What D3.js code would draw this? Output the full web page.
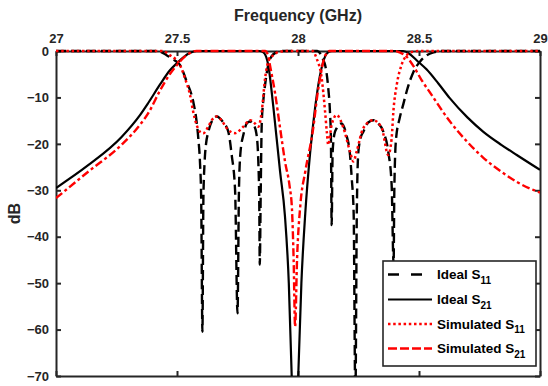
<!DOCTYPE html>
<html>
<head>
<meta charset="utf-8">
<script src="https://cdn.jsdelivr.net/npm/d3@7"></script>
<style>
  html, body { margin: 0; padding: 0; background: #ffffff; }
  svg { display: block; font-family: "Liberation Sans", Arial, sans-serif; }
</style>
</head>
<body>
<svg id="chart" width="548" height="386"></svg>
<script>
// Axis ticks
const xTicks = [27, 27.5, 28, 28.5, 29];
const yTicks = [0, -10, -20, -30, -40, -50, -60, -70];

// Ideal S11 : [GHz, dB]
const idealS11 = [
  [27.0, 0], [27.42, 0], [27.457, -0.9], [27.49, -2.0], [27.512, -3.0], [27.54, -6.6],
  [27.567, -10.9], [27.581, -15.2], [27.588, -18.8], [27.595, -24], [27.6, -32], [27.605, -60.5],
  [27.609, -32], [27.614, -24], [27.62, -20], [27.629, -17.5], [27.645, -15], [27.664, -14.1],
  [27.69, -15.3], [27.712, -17.4], [27.726, -22.4], [27.74, -30], [27.75, -56.5], [27.756, -30],
  [27.762, -22], [27.774, -18.1], [27.79, -15.5], [27.802, -15.2], [27.82, -16.2], [27.829, -18.1],
  [27.836, -23.8], [27.84, -33], [27.842, -46], [27.846, -30], [27.85, -16], [27.857, -10.5],
  [27.864, -7.3], [27.877, -3.0], [27.89, -1.2], [27.91, -0.3], [27.93, 0], [28.08, 0],
  [28.095, -0.8], [28.105, -2.0], [28.112, -3.0], [28.125, -8], [28.132, -13], [28.136, -18.8],
  [28.139, -37.5], [28.143, -22], [28.15, -18], [28.16, -16.6], [28.18, -15.6], [28.2, -18.1],
  [28.215, -22.4], [28.222, -27.4], [28.23, -35], [28.237, -75], [28.243, -35], [28.249, -22],
  [28.26, -18.5], [28.27, -17.4], [28.29, -15.4], [28.311, -14.9], [28.33, -15.5], [28.353, -17.4],
  [28.373, -21.7], [28.387, -28.9], [28.395, -46], [28.398, -30], [28.405, -19], [28.42, -14.5],
  [28.435, -11.5], [28.45, -8.5], [28.477, -4.5], [28.504, -2.3], [28.53, -1.0], [28.56, -0.3],
  [28.6, 0], [29.0, 0]
];

// Ideal S21 : [GHz, dB]
const idealS21 = [
  [27.0, -29.5], [27.133, -24.6], [27.271, -18.5], [27.347, -13.8], [27.381, -11.2], [27.43, -7.2],
  [27.47, -4.2], [27.5, -2.6], [27.53, -1.2], [27.555, -0.4], [27.58, 0], [27.84, 0],
  [27.857, -0.3], [27.877, -3.0], [27.898, -12], [27.926, -26], [27.946, -35.5], [27.962, -50],
  [27.974, -70], [27.987, -85], [28.001, -70], [28.014, -50], [28.03, -35], [28.05, -22],
  [28.07, -12.5], [28.091, -5.2], [28.105, -2.2], [28.12, -0.5], [28.14, 0], [28.435, 0],
  [28.46, -0.6], [28.49, -2.0], [28.532, -4.0], [28.58, -7.0], [28.628, -10.2], [28.7, -14.3],
  [28.766, -17.4], [28.84, -20.2], [28.904, -22.4], [29.0, -25.6]
];

// Simulated S11 : [GHz, dB]
const simS11 = [
  [27.0, 0], [27.44, 0], [27.471, -0.9], [27.512, -3.0], [27.533, -5.9], [27.554, -9.5],
  [27.567, -13.1], [27.581, -15.9], [27.595, -17.4], [27.609, -17.7], [27.629, -16.3], [27.645, -14.8],
  [27.664, -14.1], [27.685, -15.0], [27.705, -16.6], [27.74, -17.7], [27.774, -16.3], [27.802, -14.9],
  [27.822, -15.6], [27.836, -16.3], [27.85, -13.1], [27.864, -5.9], [27.877, -2.3], [27.898, -0.9],
  [27.92, -0.2], [27.95, 0], [28.06, 0], [28.077, -1.6], [28.098, -5.9], [28.112, -13.1],
  [28.119, -17.4], [28.125, -20.2], [28.139, -15.9], [28.16, -13.8], [28.188, -16.6], [28.215, -21.7],
  [28.229, -23.8], [28.242, -21.7], [28.27, -16.6], [28.311, -14.9], [28.346, -16.6], [28.373, -22.4],
  [28.387, -18.8], [28.394, -13.1], [28.408, -7.3], [28.428, -3.0], [28.449, -0.9], [28.47, -0.2],
  [28.5, 0], [29.0, 0]
];

// Simulated S21 : [GHz, dB]
const simS21 = [
  [27.0, -31.7], [27.133, -26.0], [27.271, -20.2], [27.347, -15.9], [27.38, -13.5], [27.43, -8.5],
  [27.47, -5.0], [27.5, -3.0], [27.53, -1.3], [27.555, -0.4], [27.58, 0], [27.864, 0],
  [27.877, -1.0], [27.884, -3.0], [27.905, -9.0], [27.926, -16.6], [27.947, -24], [27.965, -29],
  [27.975, -34], [27.982, -45], [27.988, -59.4], [27.996, -45], [28.01, -33], [28.03, -26],
  [28.063, -16.6], [28.08, -9.5], [28.091, -5.9], [28.112, -1.0], [28.13, 0], [28.4, 0],
  [28.42, -0.3], [28.45, -1.3], [28.48, -3.5], [28.51, -6.2], [28.55, -9.3], [28.628, -15.2],
  [28.7, -19.6], [28.766, -23.0], [28.84, -26.0], [28.904, -28.2], [29.0, -30.5]
];

const seriesNames = ["Ideal S", "Ideal S", "Simulated S", "Simulated S"];
const seriesSubs = ["11", "21", "11", "21"];

(function drawChart() {
  const svg = d3.select("#chart");
  const pL = 56, pR = 540, pT = 51, pB = 376;
  const axisColor = "#262626";

  const x = d3.scaleLinear().domain([27, 29]).range([pL, pR]);
  const y = d3.scaleLinear().domain([-70, 0]).range([pB, pT]);

  // axes (box with inward ticks on all four sides)
  function styleAxis(g) {
    g.select(".domain").attr("stroke", axisColor).attr("stroke-width", 2);
    g.selectAll(".tick line").attr("stroke", axisColor).attr("stroke-width", 2);
    g.selectAll(".tick text")
      .attr("fill", "#262626")
      .attr("font-size", 13)
      .attr("font-weight", "bold")
      .attr("font-family", "Liberation Sans, Arial, sans-serif");
  }

  svg.append("g").attr("transform", `translate(0,${pT})`)
    .call(d3.axisTop(x).tickValues(xTicks).tickFormat(d3.format("")).tickSizeInner(-5).tickSizeOuter(0).tickPadding(8))
    .call(styleAxis);
  svg.append("g").attr("transform", `translate(0,${pB})`)
    .call(d3.axisBottom(x).tickValues(xTicks).tickFormat("").tickSizeInner(-5).tickSizeOuter(0))
    .call(styleAxis);
  svg.append("g").attr("transform", `translate(${pL},0)`)
    .call(d3.axisLeft(y).tickValues(yTicks).tickFormat(d3.format("d")).tickSizeInner(-5).tickSizeOuter(0).tickPadding(7))
    .call(styleAxis);
  svg.append("g").attr("transform", `translate(${pR},0)`)
    .call(d3.axisRight(y).tickValues(yTicks).tickFormat("").tickSizeInner(-5).tickSizeOuter(0))
    .call(styleAxis);

  // axis titles
  svg.append("text")
    .attr("x", (pL + pR) / 2).attr("y", 21)
    .attr("text-anchor", "middle")
    .attr("font-size", 16).attr("font-weight", "bold").attr("fill", "#262626")
    .text("Frequency (GHz)");
  svg.append("text")
    .attr("transform", `translate(20,${(pT + pB) / 2}) rotate(-90)`)
    .attr("text-anchor", "middle")
    .attr("font-size", 16).attr("font-weight", "bold").attr("fill", "#262626")
    .text("dB");

  // clip region for the traces
  svg.append("defs").append("clipPath").attr("id", "plotClip")
    .append("rect").attr("x", pL).attr("y", pT - 2)
    .attr("width", pR - pL).attr("height", pB - pT + 2);

  const line = d3.line()
    .x(d => x(d[0]))
    .y(d => y(d[1]))
    .curve(d3.curveMonotoneX);

  const styles = [
    { color: "#000000", width: 2.4, dash: "10,5" },
    { color: "#000000", width: 2.2, dash: null },
    { color: "#ff0000", width: 2.5, dash: "2.5,2.7" },
    { color: "#ff0000", width: 2.4, dash: "8,3,3,3" }
  ];
  const allSeries = [idealS11, idealS21, simS11, simS21];

  const traces = svg.append("g").attr("clip-path", "url(#plotClip)");
  allSeries.forEach((data, i) => {
    traces.append("path")
      .datum(data)
      .attr("d", line)
      .attr("fill", "none")
      .attr("stroke", styles[i].color)
      .attr("stroke-width", styles[i].width)
      .attr("stroke-dasharray", styles[i].dash);
  });

  // legend
  const legend = svg.append("g");
  legend.append("rect")
    .attr("x", 383).attr("y", 261)
    .attr("width", 153).attr("height", 105)
    .attr("fill", "#ffffff")
    .attr("stroke", axisColor).attr("stroke-width", 1.6);

  const legendDash = ["11,12", null, "2.5,2.7", "9,3"];
  const rowY = [274.5, 299.5, 324, 348.5];
  seriesNames.forEach((name, i) => {
    legend.append("line")
      .attr("x1", 388).attr("x2", 432)
      .attr("y1", rowY[i]).attr("y2", rowY[i])
      .attr("stroke", styles[i].color)
      .attr("stroke-width", styles[i].width)
      .attr("stroke-dasharray", legendDash[i]);
    const t = legend.append("text")
      .attr("x", 437).attr("y", rowY[i] + 4.5)
      .attr("font-size", 13.5).attr("font-weight", "bold").attr("fill", "#000000");
    t.append("tspan").text(name);
    t.append("tspan").attr("dy", 4.5).attr("font-size", 10).text(seriesSubs[i]);
  });
})();
</script>
</body>
</html>
